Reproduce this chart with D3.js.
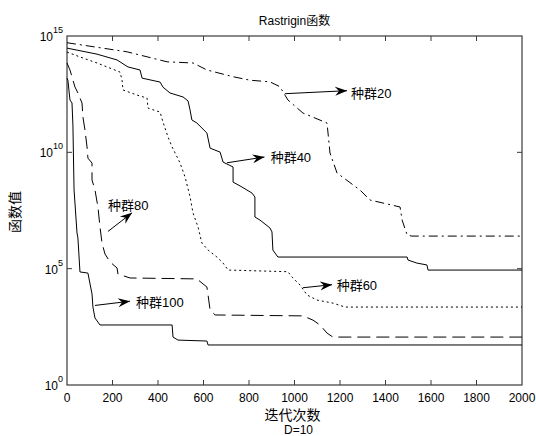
<!DOCTYPE html>
<html><head><meta charset="utf-8">
<script src="https://cdn.jsdelivr.net/npm/d3@7"></script>
<style>
body{margin:0;background:#fff;}
svg{display:block;}
text{font-family:"Liberation Sans",Arial,"Noto Sans CJK SC",sans-serif;fill:#000;}
.cjk{font-family:"Liberation Sans","Noto Sans CJK SC",sans-serif;}
</style>
</head><body>
<svg id="c" width="536" height="436"></svg>
<script>
// ---- data (iteration, log10 of function value) ----
const title = "Rastrigin函数";
const xLabel = "迭代次数";
const subLabel = "D=10";
const yLabel = "函数值";
const xTicks = [0,200,400,600,800,1000,1200,1400,1600,1800,2000];
const yTickExps = [0,5,10,15];

const pop20Iter = [0,264,440,554,615,730,804,892,936,958,971,1037,1143,1156,1187,1288,1332,1464,1473,1495,1516,2000];
const pop20Exp  = [14.71,14.32,13.89,13.84,13.54,13.25,13.10,13.03,12.82,12.46,12.25,11.69,11.26,9.97,9.11,8.38,7.95,7.65,7.09,6.45,6.40,6.40];

const pop40Iter = [0,132,220,268,321,330,409,422,453,510,532,541,549,571,615,629,673,686,730,730,769,813,826,826,848,892,901,905,927,1495,1499,1538,1582,1587,2000];
const pop40Exp  = [14.48,14.22,13.97,13.67,13.54,13.19,13.02,12.80,12.55,12.38,12.21,11.82,11.39,11.26,10.83,10.18,10.01,9.58,9.37,8.72,8.51,8.25,8.08,7.22,7.09,6.75,6.58,5.80,5.50,5.50,5.37,5.24,5.16,4.94,4.94];

const pop60Iter = [0,57,132,189,233,242,246,308,352,356,409,422,444,462,484,497,519,541,554,576,593,620,659,686,708,971,989,1024,1055,1099,1169,1222,2000];
const pop60Exp  = [14.31,14.10,13.84,13.62,13.45,13.10,12.68,12.46,12.33,11.90,11.73,11.30,10.66,10.23,9.80,9.54,8.94,8.08,7.39,6.79,6.10,5.80,5.50,5.24,4.94,4.87,4.64,4.30,3.87,3.65,3.52,3.35,3.35];

const pop80Iter = [0,13,35,48,66,70,79,88,92,110,110,123,136,145,154,167,189,220,224,277,571,615,620,629,651,1037,1081,1112,1143,1169,2000];
const pop80Exp  = [13.84,13.54,12.81,12.55,12.12,11.52,10.96,10.23,9.75,9.54,8.81,8.38,7.65,6.79,6.10,5.63,5.29,5.03,4.77,4.60,4.56,4.21,3.87,3.22,3.01,2.97,2.79,2.58,2.23,2.06,2.06];

const pop100Iter = [0,4,13,22,26,31,35,44,48,57,92,110,114,123,145,462,466,488,615,620,2000];
const pop100Exp  = [13.19,13.10,12.25,12.12,11.17,8.38,7.82,6.53,6.32,4.86,4.81,3.91,3.35,2.88,2.58,2.58,2.06,1.93,1.89,1.72,1.72];

const seriesNames = ["种群20","种群40","种群60","种群80","种群100"];
// annotation: arrow tail (iter, exp), arrow head (iter, exp)
const annTail = [[958,12.52],[703,9.55],[1037,4.18],[180,6.60],[123,3.42]];
const annHead = [[1231,12.65],[868,9.80],[1165,4.31],[286,7.40],[277,3.60]];

// ---- chart ----
const W=536,H=436, m={l:67,t:36,r:14,b:51};
const iw=W-m.l-m.r, ih=H-m.t-m.b;
const svg=d3.select("#c");
const x=d3.scaleLinear().domain([0,2000]).range([m.l,m.l+iw]);
const y=d3.scaleLog().domain([1,1e15]).range([m.t+ih,m.t]);

const defs=svg.append("defs");
defs.append("marker").attr("id","ah").attr("viewBox","-12 -6 14 12")
  .attr("refX",0).attr("refY",0).attr("markerWidth",14).attr("markerHeight",12)
  .attr("markerUnits","userSpaceOnUse").attr("orient","auto")
  .append("path").attr("d","M0,0 L-12,-4.5 L-8,0 L-12,4.5 Z").attr("fill","#000");

// frame
const frameColor="#3a3a3a";
svg.append("rect").attr("x",m.l).attr("y",m.t).attr("width",iw).attr("height",ih)
  .attr("fill","none").attr("stroke",frameColor).attr("stroke-width",1.2);

// ticks
const tl=5;
xTicks.forEach(t=>{
  if(t===0||t===2000) return;
  svg.append("line").attr("x1",x(t)).attr("x2",x(t)).attr("y1",m.t+ih).attr("y2",m.t+ih-tl).attr("stroke",frameColor);
  svg.append("line").attr("x1",x(t)).attr("x2",x(t)).attr("y1",m.t).attr("y2",m.t+tl).attr("stroke",frameColor);
});
xTicks.forEach(t=>{
  svg.append("text").attr("x",x(t)).attr("y",m.t+ih+17).attr("text-anchor","middle")
    .attr("font-size",12).text(t);
});
yTickExps.forEach(e=>{
  const yy=y(Math.pow(10,e));
  if(e!==0&&e!==15){
    svg.append("line").attr("x1",m.l).attr("x2",m.l+tl).attr("y1",yy).attr("y2",yy).attr("stroke",frameColor);
    svg.append("line").attr("x1",m.l+iw).attr("x2",m.l+iw-tl).attr("y1",yy).attr("y2",yy).attr("stroke",frameColor);
  }
  const t=svg.append("text").attr("x",m.l-4).attr("y",yy+5).attr("text-anchor","end").attr("font-size",12);
  t.append("tspan").text("10");
  t.append("tspan").attr("dy",-8).attr("font-size",9).text(e);
});

// lines
const styles=[
  {it:pop20Iter,ex:pop20Exp,dash:"9,4,2,4"},
  {it:pop40Iter,ex:pop40Exp,dash:null},
  {it:pop60Iter,ex:pop60Exp,dash:"2,3"},
  {it:pop80Iter,ex:pop80Exp,dash:"13,6"},
  {it:pop100Iter,ex:pop100Exp,dash:null}
];
const line=d3.line().x(d=>x(d[0])).y(d=>y(Math.pow(10,d[1])));
styles.forEach(s=>{
  const pts=s.it.map((v,i)=>[v,s.ex[i]]);
  const p=svg.append("path").attr("d",line(pts)).attr("fill","none")
    .attr("stroke","#000").attr("stroke-width",1);
  if(s.dash) p.attr("stroke-dasharray",s.dash);
});

// annotations
seriesNames.forEach((n,i)=>{
  const a=annTail[i], b=annHead[i];
  svg.append("line").attr("x1",x(a[0])).attr("y1",y(Math.pow(10,a[1])))
    .attr("x2",x(b[0])).attr("y2",y(Math.pow(10,b[1])))
    .attr("stroke","#000").attr("stroke-width",1).attr("marker-end","url(#ah)");
});
const labelPos=[[1235,12.55],[882,9.8],[1172,4.3],[180,7.75],[290,3.55]];
seriesNames.forEach((n,i)=>{
  const p=labelPos[i];
  svg.append("text").attr("class","cjk").attr("x",x(p[0])+(i===3?-0:3)).attr("y",y(Math.pow(10,p[1]))+5)
    .attr("font-size",13).text(n);
});

// titles
svg.append("text").attr("class","cjk").attr("x",m.l+iw/2).attr("y",25).attr("text-anchor","middle").attr("font-size",12).text(title);
svg.append("text").attr("class","cjk").attr("x",m.l+iw/2-2).attr("y",420).attr("text-anchor","middle").attr("font-size",14).text(xLabel);
svg.append("text").attr("x",m.l+iw/2+4).attr("y",434).attr("text-anchor","middle").attr("font-size",12).text(subLabel);
svg.append("text").attr("class","cjk").attr("transform","translate(20,212) rotate(-90)").attr("text-anchor","middle").attr("font-size",14).text(yLabel);
</script>
</body></html>
